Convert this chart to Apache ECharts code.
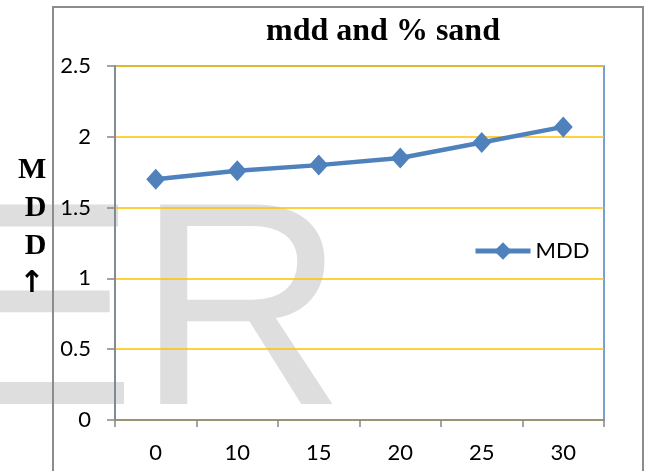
<!DOCTYPE html>
<html>
<head>
<meta charset="utf-8">
<script src="https://cdn.jsdelivr.net/npm/echarts@6/dist/echarts.min.js"></script>
<style>
  html, body { margin: 0; padding: 0; background: #ffffff; }
  #chart { width: 650px; height: 471px; }
</style>
</head>
<body>
<div id="chart"></div>
<script>
// Sand content (%) and maximum dry density
const categories = ['0', '10', '15', '20', '25', '30'];
const mddValues = [1.70, 1.76, 1.80, 1.85, 1.96, 2.07];
const seriesName = 'MDD';
const chartTitle = 'mdd and % sand';
const yAxisLetters = ['M', 'D', 'D'];
const yAxisArrow = '\u2191';
const watermarkText = 'ER';

const blue = '#4F81BD';
const axisGray = '#868686';
const labelFont = 'Lato, "Liberation Sans", sans-serif';
const serifFont = '"Liberation Serif", "Times New Roman", serif';

const chart = echarts.init(document.getElementById('chart'), null, { renderer: 'canvas' });

chart.setOption({
  animation: false,
  backgroundColor: '#ffffff',
  title: {
    text: chartTitle,
    left: 378,
    top: 11,
    textAlign: 'center',
    textStyle: { fontFamily: serifFont, fontWeight: 'bold', fontSize: 32, color: '#000' }
  },
  graphic: [
    {
      type: 'text', z: -10, silent: true,
      left: -57, top: 179,
      style: { text: watermarkText, font: '290px "Liberation Sans", Arial, sans-serif', fill: '#dedede' }
    },
    {
      type: 'rect', z: 10, silent: true,
      shape: { x: 53, y: 7, width: 590, height: 520 },
      style: { fill: 'none', stroke: '#8c8c8c', lineWidth: 2 }
    },
    {
      type: 'text', z: 10, silent: true,
      left: 18, top: 155,
      style: {
        text: yAxisLetters.map(function (l) { return '{l|' + l + '}'; }).join('\n') + '\n{a|' + yAxisArrow + '}',
        align: 'right',
        rich: {
          l: { font: 'bold 30px ' + serifFont, fill: '#000', color: '#000', lineHeight: 38, align: 'right' },
          a: { font: 'bold 30px "DejaVu Sans", sans-serif', fill: '#000', color: '#000', lineHeight: 38, align: 'right', padding: [0, 2, 0, 0] }
        }
      }
    }
  ],
  legend: {
    data: [seriesName],
    left: 473,
    top: 240,
    padding: 0,
    itemWidth: 55,
    itemHeight: 22,
    lineStyle: { width: 5 },
    textStyle: { fontFamily: labelFont, fontSize: 22, color: '#000' }
  },
  grid: {
    left: 115, right: 46, top: 66, bottom: 51,
    show: true, borderColor: blue, borderWidth: 1.5, backgroundColor: 'transparent'
  },
  xAxis: {
    type: 'category',
    data: categories,
    boundaryGap: true,
    axisLine: { show: true, lineStyle: { color: axisGray, width: 1.5 } },
    axisTick: { show: true, alignWithLabel: false, length: 7, lineStyle: { color: axisGray, width: 1.5 } },
    axisLabel: { margin: 22, fontFamily: labelFont, fontSize: 22, color: '#000' },
    splitLine: { show: false }
  },
  yAxis: {
    type: 'value',
    min: 0, max: 2.5, interval: 0.5,
    axisLine: { show: true, lineStyle: { color: axisGray, width: 1.5 } },
    axisTick: { show: true, length: 8, lineStyle: { color: axisGray, width: 1.5 } },
    axisLabel: { margin: 24, fontFamily: labelFont, fontSize: 22, color: '#000' },
    splitLine: { show: true, lineStyle: { color: '#FFC000', width: 1.5 } }
  },
  series: [{
    name: seriesName,
    type: 'line',
    data: mddValues,
    symbol: 'diamond',
    symbolSize: [19, 21],
    lineStyle: { color: blue, width: 4.5 },
    itemStyle: { color: blue },
    z: 5
  }]
});
</script>
</body>
</html>
